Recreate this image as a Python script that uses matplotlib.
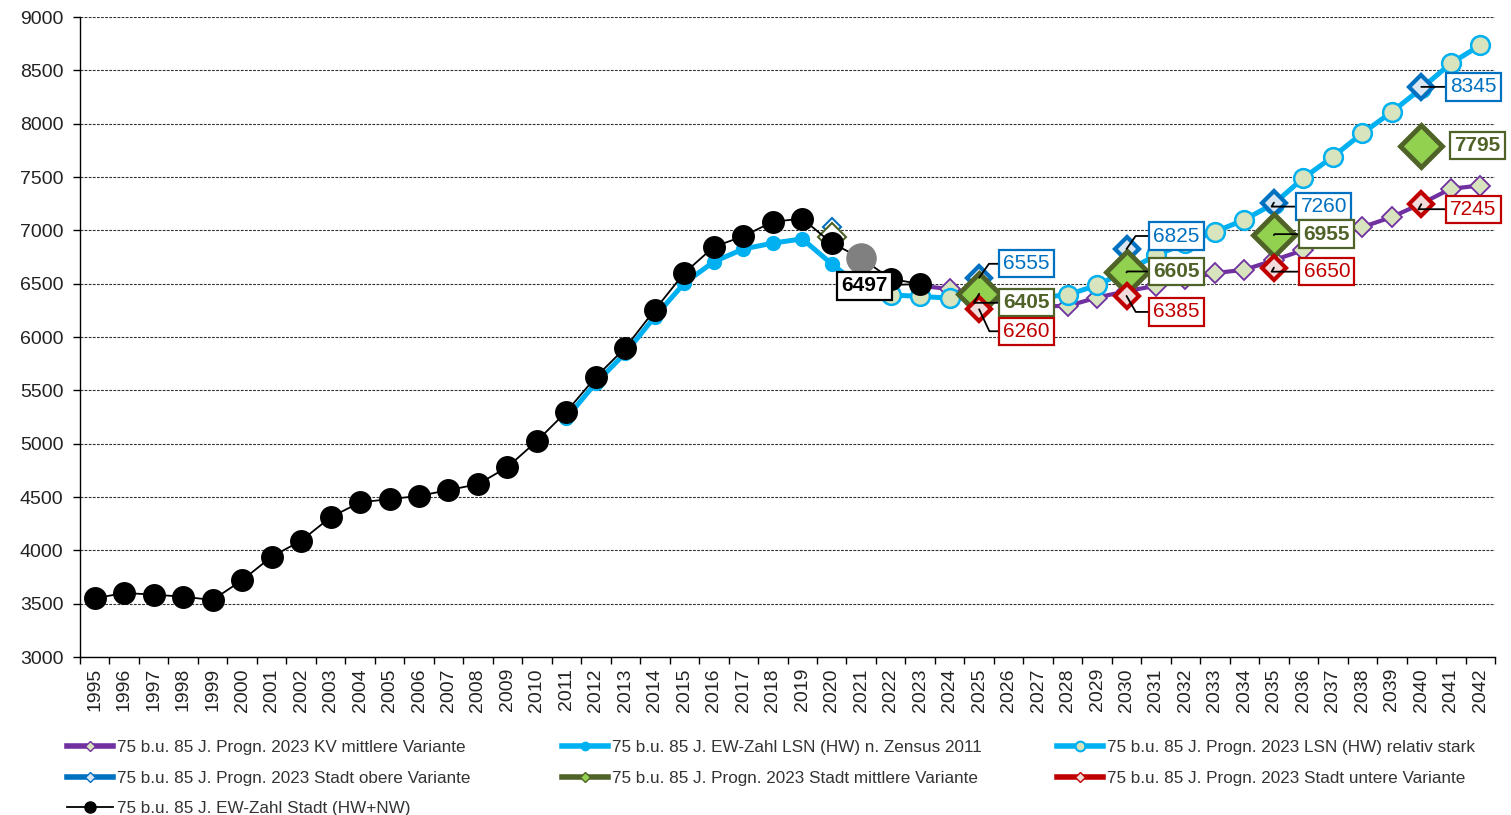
import numpy as np
import matplotlib
matplotlib.use('Agg')
import matplotlib.pyplot as plt
from matplotlib.lines import Line2D

plt.rcParams['font.family'] = ['Liberation Sans', 'DejaVu Sans']

years = list(range(1995, 2043))

# 75 b.u. 85 J. EW-Zahl Stadt (HW+NW), 1995-2023
ew_stadt_years = list(range(1995, 2024))
ew_stadt = [3550, 3600, 3585, 3565, 3535, 3720, 3940, 4090, 4310, 4450,
            4480, 4510, 4565, 4620, 4780, 5025, 5300, 5625, 5900, 6255,
            6600, 6845, 6945, 7080, 7110, 6880, 6740, 6545, 6497]
gray_year = 2021

# EW-Zahl LSN (HW) n. Zensus 2011, 2011-2021
lsn_years = list(range(2011, 2022))
lsn_zensus = [5240, 5570, 5850, 6190, 6505, 6705, 6825, 6880, 6920, 6685, 6470]

# Progn. 2023 LSN (HW) relativ stark, 2022-2042
stark_years = list(range(2022, 2043))
lsn_stark = [6395, 6380, 6365, 6360, 6360, 6370, 6395, 6485, 6620, 6765,
             6880, 6985, 7100, 7250, 7490, 7690, 7910, 8110, 8330, 8565, 8735]

# Progn. 2023 KV mittlere Variante, 2023-2042
kv_years = list(range(2023, 2043))
kv_mittel = [6480, 6450, 6380, 6320, 6290, 6290, 6370, 6430, 6480, 6540,
             6600, 6630, 6720, 6815, 6930, 7030, 7125, 7250, 7390, 7420]

# Progn. 2023 Stadt varianten (Basis 2020, dann 5-Jahres-Schritte)
stadt_years = [2020, 2025, 2030, 2035, 2040]
stadt_obere = [7030, 6555, 6825, 7260, 8345]
stadt_mittel = [6940, 6405, 6605, 6955, 7795]
stadt_untere = [6870, 6260, 6385, 6650, 7245]

labels = ['75 b.u. 85 J. Progn. 2023 KV mittlere Variante',
          '75 b.u. 85 J. EW-Zahl LSN (HW) n. Zensus 2011',
          '75 b.u. 85 J. Progn. 2023 LSN (HW) relativ stark',
          '75 b.u. 85 J. Progn. 2023 Stadt obere Variante',
          '75 b.u. 85 J. Progn. 2023 Stadt mittlere Variante',
          '75 b.u. 85 J. Progn. 2023 Stadt untere Variante',
          '75 b.u. 85 J. EW-Zahl Stadt (HW+NW)']

PURPLE = '#7030A0'
CYAN = '#00B0F0'
LGREEN = '#D7E4BD'
BLUE = '#0070C0'
OLIVE = '#4F6228'
GREEN = '#92D050'
RED = '#C00000'

fig = plt.figure(figsize=(15.11, 8.15), dpi=100)
ax = fig.add_axes([80 / 1511, 1 - 657 / 815, 1415 / 1511, 640 / 815])

# lines
ax.plot(kv_years, kv_mittel, color=PURPLE, lw=3, marker='D', ms=10,
        mfc=LGREEN, mec=PURPLE, mew=1.3, zorder=3)
ax.plot(lsn_years, lsn_zensus, color=CYAN, lw=3.6, marker='o', ms=10,
        mfc=CYAN, mec=CYAN, zorder=3)
ax.plot(stark_years, lsn_stark, color=CYAN, lw=3.6, marker='o', ms=13.5,
        mfc=LGREEN, mec=CYAN, mew=1.8, zorder=4)
ax.plot(ew_stadt_years, ew_stadt, color='black', lw=1.3, marker='o', ms=15.5,
        mfc='black', mec='black', zorder=6)
gi = ew_stadt_years.index(gray_year)
ax.plot(ew_stadt_years[gi], ew_stadt[gi], 'o', ms=21, color='#808080', zorder=6)

# stadt varianten: basis 2020 small, projections big
ax.plot(stadt_years[:1], stadt_obere[:1], 'D', ms=9, mfc='white', mec=BLUE, mew=1.5, zorder=5)
ax.plot(stadt_years[:1], stadt_mittel[:1], 'D', ms=14, mfc='white', mec=OLIVE, mew=1.5, zorder=5)
ax.plot(stadt_years[:1], stadt_untere[:1], 'D', ms=9, mfc='white', mec=RED, mew=1.5, zorder=5)
ax.plot(stadt_years[1:], stadt_obere[1:], 'D', ms=12, mfc='#DCE6F2', mec=BLUE, mew=3, zorder=7)
ax.plot(stadt_years[1:], stadt_mittel[1:], 'D', ms=21, mfc=GREEN, mec=OLIVE, mew=3.5, zorder=8)
ax.plot(stadt_years[1:], stadt_untere[1:], 'D', ms=12, mfc='#F2DCDB', mec=RED, mew=3, zorder=9)

# data labels (pixel offsets from the point)
def label(x, y, dx, dy, color, bold=False, angle=None):
    arrow = None
    if angle is not None:
        if angle == 0:
            cs = 'arc3'
        else:
            cs = 'angle,angleA=0,angleB=%d,rad=0' % angle
        arrow = dict(arrowstyle='-', color='black', lw=1.3, shrinkA=0, shrinkB=0,
                     connectionstyle=cs)
    ax.annotate(str(y), xy=(x, y), xytext=(dx, dy), textcoords='offset pixels',
                ha='center', va='center', fontsize=15, color=color,
                fontweight='bold' if bold else 'normal',
                bbox=dict(boxstyle='square,pad=0.2', fc='white', ec=color, lw=1.6),
                arrowprops=arrow, zorder=10)

offs_obere = [(47, 14, 55), (50, 13, 55), (50, -4, 60), (52, 0, 0)]
offs_mittel = [(47, -9, 60), (50, 1, 60), (53, 1, 60), (56, 0, None)]
offs_untere = [(47, -22, -65), (50, -16, -60), (53, -4, 60), (52, -5, 60)]
for i in range(1, 5):
    dx, dy, a = offs_obere[i - 1]
    label(stadt_years[i], stadt_obere[i], dx, dy, BLUE, angle=a)
    dx, dy, a = offs_mittel[i - 1]
    label(stadt_years[i], stadt_mittel[i], dx, dy, OLIVE, bold=True, angle=a)
    dx, dy, a = offs_untere[i - 1]
    label(stadt_years[i], stadt_untere[i], dx, dy, RED, angle=a)
label(ew_stadt_years[-1], ew_stadt[-1], -56, -2, 'black', bold=True, angle=0)

# axes
ax.set_xlim(1994.5, 2042.5)
ax.set_ylim(3000, 9000)
ax.set_yticks(range(3000, 9001, 500))
ax.set_xticks(years)
ax.set_xticklabels([str(y) for y in years], rotation=90)
ax.set_xticks(np.arange(1994.5, 2043, 1), minor=True)
ax.tick_params(axis='x', which='major', length=0, labelsize=14, pad=8, colors='#222222')
ax.tick_params(axis='x', which='minor', length=5, width=1, color='black')
ax.tick_params(axis='y', length=5, width=1, labelsize=14, colors='#222222', pad=7)
ax.tick_params(axis='y', color='black')
ax.yaxis.grid(True, linestyle=(0, (2.5, 1.2)), color='#333333', lw=0.8)
ax.set_axisbelow(True)
for s in ['top', 'right']:
    ax.spines[s].set_visible(False)
for s in ['left', 'bottom']:
    ax.spines[s].set_color('black')
    ax.spines[s].set_linewidth(1)

# legend in three columns, row-major like the reference
handles = [
    Line2D([], [], color=PURPLE, lw=4, marker='D', ms=5, mfc=LGREEN, mec=PURPLE),
    Line2D([], [], color=CYAN, lw=4, marker='o', ms=6, mfc=CYAN, mec=CYAN),
    Line2D([], [], color=CYAN, lw=4, marker='o', ms=7, mfc=LGREEN, mec=CYAN, mew=1.5),
    Line2D([], [], color=BLUE, lw=4, marker='D', ms=5, mfc='#DCE6F2', mec=BLUE),
    Line2D([], [], color=OLIVE, lw=4, marker='D', ms=5, mfc=GREEN, mec=OLIVE),
    Line2D([], [], color=RED, lw=4, marker='D', ms=5, mfc='#F2DCDB', mec=RED),
    Line2D([], [], color='black', lw=1.3, marker='o', ms=8, mfc='black', mec='black'),
]
cols = [[0, 3, 6], [1, 4], [2, 5]]
col_x = [67, 562, 1057]
for c, xs in zip(cols, col_x):
    fig.legend([handles[i] for i in c], [labels[i] for i in c],
               loc='upper left', bbox_to_anchor=(xs / 1511, 1 - 740 / 815),
               frameon=False, fontsize=12.3, handlelength=2.7, handletextpad=0.2,
               labelspacing=0.92, borderaxespad=0, borderpad=0,
               labelcolor='#333333')

fig.savefig('out.png', dpi=100)
